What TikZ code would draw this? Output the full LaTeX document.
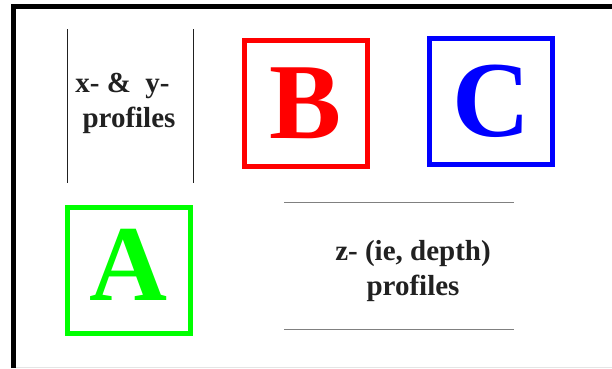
\documentclass[tikz,border=0pt]{standalone}
\usepackage{fontspec}
\setmainfont{Liberation Serif}
\usepackage{tikz}
\usetikzlibrary{positioning}
\definecolor{ink}{gray}{0.13}
\definecolor{rulegray}{gray}{0.5}
\definecolor{pureRed}{RGB}{255,0,0}
\definecolor{pureGreen}{RGB}{0,255,0}
\definecolor{pureBlue}{RGB}{0,0,255}

\begin{document}
\begin{tikzpicture}[
  x=1pt, y=-1pt,
  letterbox/.style={draw=#1, text=#1, line width=5pt, inner sep=0pt, outer sep=0pt,
    minimum width=123pt, minimum height=126pt, font=\fontsize{108}{110}\selectfont\bfseries},
  caption/.style={align=center, text=ink, font=\fontsize{29}{35}\selectfont\bfseries},
  sideline/.style={draw=ink, line width=1.1pt},
  flatline/.style={draw=rulegray, line width=1.4pt}
]
  \useasboundingbox (0,0) rectangle (612,368);
  \draw[line width=5pt] (13.5,368) -- (13.5,6.5) -- (612,6.5);
  \draw[gray!20, line width=1pt] (16,367.2) -- (612,367.2);

  \node[caption] (xy) at (129,103.5) {x- \&\ \ y-\hspace*{13pt}\\profiles};
  \draw[sideline] (67.6,29) -- (67.6,183);
  \draw[sideline] (193.4,29) -- (193.4,183);

  \node[letterbox=pureRed]   (B) at (305.5,103.4) {B};
  \node[letterbox=pureBlue]  (C) at (491.2,101.5) {C};
  \node[letterbox=pureGreen, text depth=12pt] (A) at (128.5,270.4) {A};

  \node[caption] (z) at (413,271) {z- (ie, depth)\\profiles};
  \draw[flatline] (284,202.7) -- (514,202.7);
  \draw[flatline] (284,329.3) -- (514,329.3);
\end{tikzpicture}
\end{document}
